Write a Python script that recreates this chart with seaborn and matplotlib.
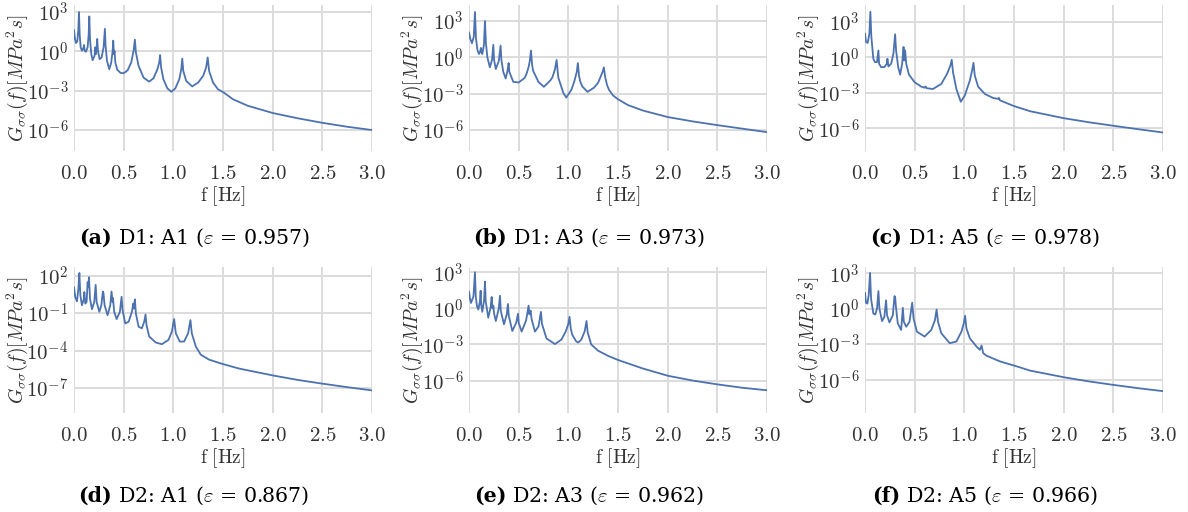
import numpy as np
import matplotlib
matplotlib.use("Agg")
import matplotlib.pyplot as plt
import seaborn as sns
from matplotlib.ticker import FixedLocator, FuncFormatter, NullLocator

# ---------------- data (frequency [Hz], log10 of PSD [MPa^2 s]) ----------------
f_a = [0.000, 0.010, 0.020, 0.033, 0.043, 0.050, 0.057, 0.067, 0.080, 0.097, 0.101, 0.107, 0.120,
       0.137, 0.148, 0.154, 0.161, 0.174, 0.188, 0.207, 0.214, 0.221, 0.228, 0.234, 0.241, 0.258,
       0.278, 0.298, 0.311, 0.318, 0.332, 0.355, 0.375, 0.389, 0.395, 0.402, 0.409, 0.416, 0.436,
       0.469, 0.500, 0.540, 0.576, 0.600, 0.613, 0.623, 0.650, 0.700, 0.757, 0.800, 0.840, 0.858,
       0.867, 0.877, 0.900, 0.940, 0.980, 1.020, 1.060, 1.080, 1.090, 1.100, 1.130, 1.190, 1.250,
       1.300, 1.330, 1.346, 1.360, 1.400, 1.450, 1.500, 1.600, 1.750, 2.000, 2.250, 2.500, 2.750, 3.000]
psd_a = [1.64, 0.95, 0.64, 0.77, 1.59, 3.00, 1.33, 0.31, 0.05, 0.31, 0.49, 0.05, -0.03,
         0.31, 1.33, 2.67, 0.95, -0.21, -0.67, -0.33, 0.31, -0.21, 0.31, 0.95, 0.05, -0.59,
         -0.46, 0.31, 1.72, 0.44, -0.72, -1.36, -0.85, 0.05, 0.82, -0.21, 0.00, -0.85, -1.41,
         -1.64, -1.67, -1.44, -0.85, 0.05, 0.90, -0.08, -1.10, -2.00, -2.31, -2.05, -1.36, -0.85,
         -0.28, -1.23, -2.13, -2.82, -3.08, -2.82, -2.13, -1.36, -0.54, -1.49, -2.26, -2.67, -2.38,
         -1.87, -1.23, -0.46, -1.49, -2.38, -2.90, -3.10, -3.65, -4.15, -4.70, -5.10, -5.45, -5.75, -6.00]

f_b = [0.000, 0.012, 0.030, 0.048, 0.060, 0.070, 0.085, 0.100, 0.113, 0.120, 0.126, 0.134, 0.150,
       0.161, 0.170, 0.185, 0.210, 0.232, 0.245, 0.252, 0.270, 0.300, 0.318, 0.326, 0.345, 0.369,
       0.388, 0.399, 0.406, 0.446, 0.500, 0.560, 0.580, 0.600, 0.612, 0.624, 0.635, 0.645, 0.700,
       0.754, 0.820, 0.840, 0.865, 0.882, 0.893, 0.900, 0.950, 0.979, 1.030, 1.060, 1.085, 1.096,
       1.107, 1.120, 1.140, 1.193, 1.260, 1.300, 1.345, 1.358, 1.370, 1.390, 1.410, 1.450, 1.500,
       1.600, 1.750, 2.000, 2.250, 2.500, 2.750, 3.000]
psd_b = [2.08, 1.55, 1.17, 1.70, 3.75, 1.60, 0.60, 0.28, 0.50, 0.78, 0.40, 0.28, 1.00,
         3.00, 1.20, 0.00, -0.83, -0.20, 1.03, -0.20, -0.97, -0.30, 0.97, -0.20, -1.20, -1.75,
         -1.10, -0.47, -1.20, -2.03, -2.08, -1.70, -1.35, -0.80, -0.30, 0.56, -0.60, -1.10, -2.05,
         -2.44, -1.90, -1.65, -1.00, -0.22, -1.20, -1.70, -2.95, -3.33, -2.70, -2.00, -1.20, -0.47,
         -1.50, -2.00, -2.40, -2.86, -2.50, -2.10, -1.20, -0.83, -1.60, -2.30, -2.70, -3.15, -3.47,
         -3.95, -4.40, -4.94, -5.30, -5.61, -5.90, -6.19]

f_c = [0.000, 0.010, 0.027, 0.044, 0.054, 0.064, 0.084, 0.100, 0.121, 0.135, 0.142, 0.162, 0.195,
       0.219, 0.226, 0.236, 0.263, 0.286, 0.303, 0.313, 0.334, 0.354, 0.374, 0.388, 0.394, 0.404,
       0.415, 0.442, 0.500, 0.566, 0.600, 0.610, 0.620, 0.684, 0.768, 0.826, 0.860, 0.873, 0.886,
       0.920, 0.964, 1.004, 1.055, 1.078, 1.092, 1.105, 1.139, 1.207, 1.291, 1.340, 1.348, 1.358,
       1.490, 1.660, 2.000, 2.250, 2.500, 2.750, 3.000]
psd_c = [2.01, 1.30, 1.22, 2.00, 3.85, 1.73, -0.12, -0.40, -0.40, 0.59, -0.54, -0.82, -0.82,
         -0.54, -0.12, -0.77, -0.54, 0.31, 1.95, 0.59, -0.82, -1.45, -0.54, 0.88, -0.26, 0.59,
         -0.54, -1.45, -2.10, -2.47, -2.56, -2.45, -2.60, -2.67, -2.24, -1.39, -0.68, -0.20, -1.25,
         -2.67, -3.74, -3.23, -1.96, -1.11, -0.46, -1.53, -2.47, -3.09, -3.43, -3.50, -3.42, -3.62,
         -4.08, -4.54, -5.13, -5.47, -5.77, -6.06, -6.34]

f_d = [0.000, 0.013, 0.030, 0.044, 0.054, 0.064, 0.080, 0.100, 0.104, 0.114, 0.127, 0.137, 0.144,
       0.151, 0.161, 0.181, 0.204, 0.218, 0.228, 0.255, 0.275, 0.291, 0.296, 0.308, 0.338, 0.365,
       0.378, 0.388, 0.392, 0.405, 0.429, 0.462, 0.479, 0.489, 0.516, 0.550, 0.583, 0.596, 0.603,
       0.613, 0.623, 0.650, 0.683, 0.707, 0.720, 0.730, 0.757, 0.824, 0.884, 0.951, 0.985, 1.008,
       1.025, 1.065, 1.108, 1.149, 1.172, 1.186, 1.226, 1.276, 1.360, 1.494, 1.661, 2.000, 2.250,
       2.500, 2.750, 3.000]
psd_d = [1.08, 0.28, -0.06, 0.94, 2.21, 0.42, -0.37, 0.15, 0.68, -0.24, -0.11, 1.47, 1.08,
         1.87, 0.15, -0.69, -0.11, 1.26, -0.11, -0.90, -0.37, 0.73, 0.63, -0.37, -1.17, -0.37,
         0.73, -0.11, 0.21, -0.90, -1.48, -0.90, 0.31, -0.77, -1.83, -1.69, -0.90, -0.24, -0.64,
         0.10, -1.03, -2.09, -2.22, -1.69, -1.11, -1.96, -2.88, -3.36, -3.49, -3.15, -2.49, -1.48,
         -2.62, -3.28, -3.28, -2.62, -1.56, -2.62, -3.67, -4.33, -4.73, -5.07, -5.44, -5.99, -6.35,
         -6.65, -6.93, -7.19]

f_e = [0.000, 0.010, 0.020, 0.045, 0.060, 0.068, 0.080, 0.094, 0.110, 0.117, 0.123, 0.134, 0.152,
       0.161, 0.168, 0.194, 0.218, 0.228, 0.236, 0.245, 0.252, 0.270, 0.300, 0.312, 0.320, 0.352,
       0.380, 0.392, 0.400, 0.436, 0.475, 0.493, 0.500, 0.530, 0.575, 0.600, 0.608, 0.620, 0.630,
       0.664, 0.700, 0.724, 0.735, 0.780, 0.865, 0.930, 0.975, 1.000, 1.012, 1.025, 1.040, 1.080,
       1.100, 1.130, 1.165, 1.183, 1.195, 1.230, 1.300, 1.400, 1.500, 1.750, 2.000, 2.250, 2.500,
       2.750, 3.000]
psd_e = [1.41, 0.80, 0.45, 1.00, 3.00, 1.00, 0.20, -0.10, 0.60, 1.47, 0.30, -0.29, 0.70,
         2.23, 0.60, -0.78, 0.10, 0.95, 0.00, 0.23, -0.40, -1.05, 0.00, 1.05, -0.20, -1.33,
         -0.50, 0.37, -0.60, -1.88, -1.20, -0.45, -1.20, -1.93, -1.00, 0.23, -0.50, -0.18, -0.90,
         -1.93, -1.50, -0.29, -1.30, -2.50, -2.97, -2.60, -1.90, -1.30, -0.70, -1.70, -2.20, -2.75,
         -2.84, -2.60, -1.90, -1.05, -2.00, -3.00, -3.52, -3.95, -4.29, -5.00, -5.60, -6.00, -6.32,
         -6.60, -6.81]

f_f = [0.000, 0.010, 0.024, 0.037, 0.051, 0.061, 0.084, 0.104, 0.121, 0.135, 0.145, 0.172, 0.195,
       0.212, 0.222, 0.246, 0.280, 0.297, 0.304, 0.310, 0.330, 0.364, 0.381, 0.391, 0.415, 0.448,
       0.475, 0.489, 0.522, 0.600, 0.667, 0.704, 0.721, 0.735, 0.768, 0.853, 0.920, 0.971, 0.994,
       1.008, 1.021, 1.055, 1.122, 1.156, 1.173, 1.190, 1.223, 1.358, 1.527, 1.661, 2.000, 2.250,
       2.500, 2.750, 3.000]
psd_f = [1.35, 0.51, 0.43, 1.13, 3.03, 0.85, -0.41, -0.49, 0.01, 1.49, 0.01, -1.05, -0.69,
         0.71, -0.55, -1.16, -0.55, 1.07, 0.95, 0.29, -1.25, -1.80, 0.07, -1.11, -1.53, -1.11,
         0.51, -0.83, -1.94, -2.36, -1.80, -0.97, -0.07, -1.11, -2.08, -2.92, -2.78, -1.94, -1.25,
         -0.60, -1.66, -2.50, -3.20, -3.48, -3.12, -3.76, -3.98, -4.46, -4.88, -5.24, -5.80, -6.15,
         -6.45, -6.73, -6.98]

captions_bold = ["(a)", "(b)", "(c)", "(d)", "(e)", "(f)"]
captions_text = ["D1: A1 ($\\varepsilon$ = 0.957)", "D1: A3 ($\\varepsilon$ = 0.973)",
                 "D1: A5 ($\\varepsilon$ = 0.978)", "D2: A1 ($\\varepsilon$ = 0.867)",
                 "D2: A3 ($\\varepsilon$ = 0.962)", "D2: A5 ($\\varepsilon$ = 0.966)"]
xticks = [0.0, 0.5, 1.0, 1.5, 2.0, 2.5, 3.0]
yticks_exp = [[3, 0, -3, -6], [3, 0, -3, -6], [3, 0, -3, -6],
              [2, -1, -4, -7], [3, 0, -3, -6], [3, 0, -3, -6]]

# ---------------- style ----------------
sns.set_theme(style="whitegrid")
plt.rcParams["font.family"] = ["DejaVu Serif"]
plt.rcParams["mathtext.fontset"] = "cm"

W, H = 1188, 512
fig = plt.figure(figsize=(W / 100, H / 100), dpi=100)

freqs = [f_a, f_b, f_c, f_d, f_e, f_f]
psds = [psd_a, psd_b, psd_c, psd_d, psd_e, psd_f]
ylims = [(-7.6, 3.54), (-7.75, 4.33), (-7.9, 4.42), (-9.0, 2.69), (-8.7, 3.44), (-8.83, 3.53)]
lefts = [74, 469, 865]
tops = [5, 267]
aw, ah = 298, 146
line_color = "#4C72B0"
txt_color = "#333333"

renderer = fig.canvas.get_renderer()
for i in range(6):
    r, c = divmod(i, 3)
    x0, y0 = lefts[c], tops[r]
    ax = fig.add_axes([x0 / W, 1 - (y0 + ah) / H, aw / W, ah / H])
    sns.lineplot(x=np.array(freqs[i]), y=10.0 ** np.array(psds[i]), ax=ax,
                 color=line_color, lw=1.3, estimator=None, sort=False)
    ax.set_yscale("log")
    ax.set_xlim(0, 3)
    ax.set_ylim(10.0 ** ylims[i][0], 10.0 ** ylims[i][1])
    ax.yaxis.set_major_locator(FixedLocator([10.0 ** e for e in yticks_exp[i]]))
    ax.yaxis.set_minor_locator(NullLocator())
    ax.yaxis.set_major_formatter(FuncFormatter(lambda v, p: r"$10^{%d}$" % round(np.log10(v))))
    ax.xaxis.set_major_locator(FixedLocator(xticks))
    ax.xaxis.set_major_formatter(FuncFormatter(lambda v, p: r"$%.1f$" % v))
    ax.tick_params(axis="x", length=0, pad=9.5, labelsize=15, colors=txt_color)
    ax.tick_params(axis="y", length=0, pad=4, labelsize=15, colors=txt_color)
    ax.grid(True, color="#dcdcdc", lw=1.4)
    for s in ax.spines.values():
        s.set_visible(False)
    ax.set_xlabel(r"$\mathrm{f\ [Hz]}$", fontsize=14, color=txt_color, labelpad=1)
    ax.set_ylabel(r"$G_{\sigma\sigma}(f)[MPa^2s]$", fontsize=14, color=txt_color)
    ax.yaxis.set_label_coords(-26.0 / 298 * 1.0 - 0.06, 0.5)

    # caption
    cx = x0 + aw / 2 - 29
    cy = 238 if r == 0 else 496
    tb = fig.text(0, 1 - cy / H, captions_bold[i], fontsize=14.8, fontweight="bold",
                  ha="left", va="center", color="black")
    tt = fig.text(0, 1 - cy / H, captions_text[i], fontsize=14.8,
                  ha="left", va="center", color="black")
    wb = tb.get_window_extent(renderer).width
    wt = tt.get_window_extent(renderer).width
    gap = 6
    start = cx - (wb + gap + wt) / 2
    tb.set_x(start / W)
    tt.set_x((start + wb + gap) / W)

fig.savefig("out.png", dpi=100)
